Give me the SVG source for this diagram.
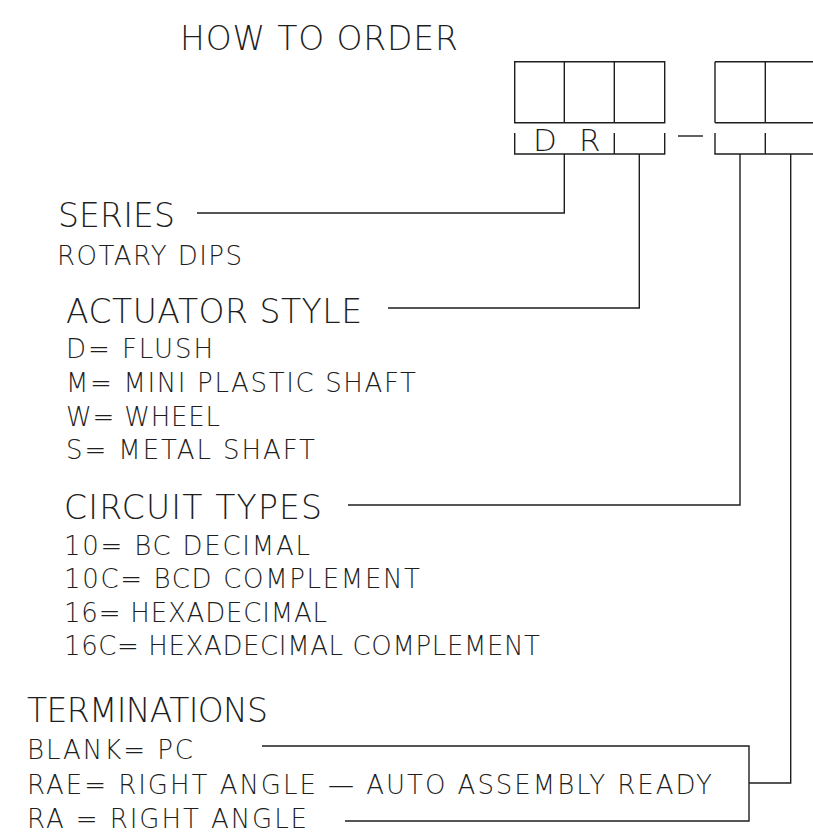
<svg xmlns="http://www.w3.org/2000/svg" width="813" height="836" viewBox="0 0 813 836">
<style>
text{font-family:"DejaVu Sans",Roboto,"Liberation Sans",sans-serif;font-weight:200;fill:#1e1e1e}
.h{font-size:33px}
.i{font-size:26px}
.ln{fill:none;stroke:#1e1e1e;stroke-width:1.4}
</style>
<rect width="813" height="836" fill="#fff"/>
<g id="title"><text class="h" x="180" y="50" font-size="32" textLength="278" lengthAdjust="spacing">HOW TO ORDER</text></g>
<g id="code-boxes">
<path class="ln" d="M514.7,61.7H664.7V122.7H514.7Z M564.3,61.7V122.7 M614.3,61.7V122.7"/>
<path class="ln" d="M715,61.7H830 M715,122.7H830 M715,61.7V122.7 M765.3,61.7V122.7"/>
<path class="ln" d="M514.7,133V154H664.7V133 M614.3,133V154"/>
<path class="ln" d="M715,133V154H830 M765.3,133V154"/>
<path class="ln" d="M678,136H703"/>
<text x="533" y="151" font-size="31">D</text>
<text x="579" y="151" font-size="31">R</text>
</g>
<g id="series">
<text class="h" x="58" y="227" font-size="32" textLength="117" lengthAdjust="spacing">SERIES</text>
<text class="i" x="57" y="265" textLength="185" lengthAdjust="spacing">ROTARY DIPS</text>
</g>
<g id="actuator">
<text class="h" x="66" y="323" textLength="296" lengthAdjust="spacing">ACTUATOR STYLE</text>
<text class="i" x="66" y="358" textLength="147" lengthAdjust="spacing">D= FLUSH</text>
<text class="i" x="66" y="392" textLength="350" lengthAdjust="spacing">M= MINI PLASTIC SHAFT</text>
<text class="i" x="66" y="426" textLength="154" lengthAdjust="spacing">W= WHEEL</text>
<text class="i" x="66" y="459" textLength="249" lengthAdjust="spacing">S= METAL SHAFT</text>
</g>
<g id="circuit">
<text class="h" x="64" y="519" textLength="258" lengthAdjust="spacing">CIRCUIT TYPES</text>
<text class="i" x="64" y="555" textLength="246" lengthAdjust="spacing">10= BC DECIMAL</text>
<text class="i" x="64" y="588" textLength="356" lengthAdjust="spacing">10C= BCD COMPLEMENT</text>
<text class="i" x="64" y="622" textLength="263" lengthAdjust="spacing">16= HEXADECIMAL</text>
<text class="i" x="64" y="655" textLength="476" lengthAdjust="spacing">16C= HEXADECIMAL COMPLEMENT</text>
</g>
<g id="terminations">
<text class="h" x="27" y="722" textLength="241" lengthAdjust="spacing">TERMINATIONS</text>
<text class="i" x="27" y="759" textLength="166" lengthAdjust="spacing">BLANK= PC</text>
<text class="i" x="27" y="794" textLength="685" lengthAdjust="spacing">RAE= RIGHT ANGLE — AUTO ASSEMBLY READY</text>
<text class="i" x="27" y="828" textLength="280" lengthAdjust="spacing">RA = RIGHT ANGLE</text>
</g>
<g id="connectors">
<path class="ln" d="M197,213H564.3V154"/>
<path class="ln" d="M388,308H639.3V154"/>
<path class="ln" d="M348,505H740V154"/>
<path class="ln" d="M262,746H749V821H345 M749,783H790.7V154"/>
</g>
</svg>
